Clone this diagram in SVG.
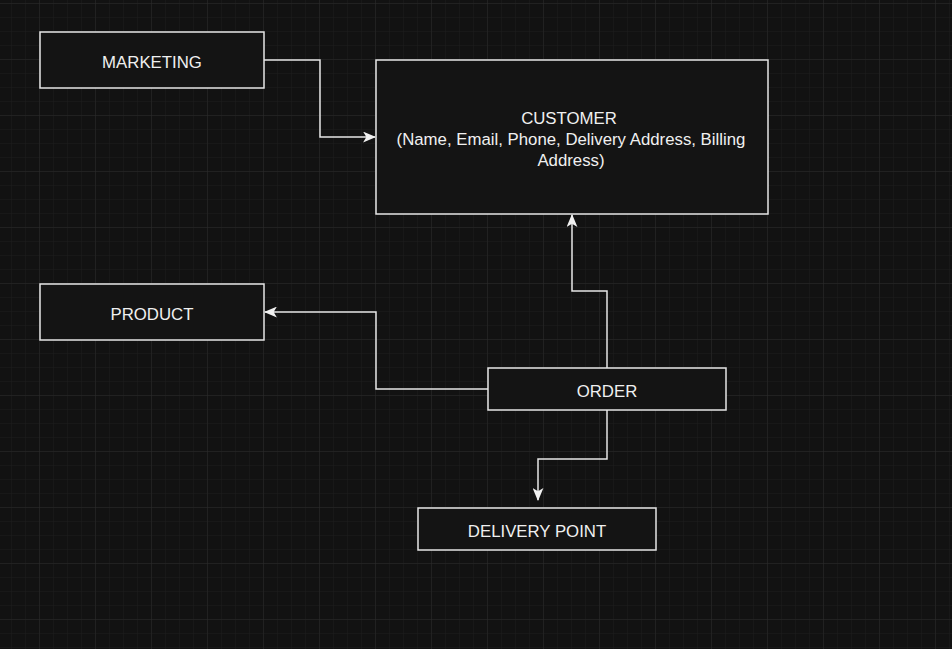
<svg xmlns="http://www.w3.org/2000/svg" width="952" height="649" viewBox="0 0 952 649">
<defs>
<pattern id="minor" x="39" y="3" width="14" height="14" patternUnits="userSpaceOnUse">
<path d="M0 0H14M0 0V14" fill="none" stroke="#1d1d1d" stroke-width="1"/>
</pattern>
<pattern id="major" x="39" y="3" width="56" height="56" patternUnits="userSpaceOnUse">
<path d="M0 0H56M0 0V56" fill="none" stroke="#2a2a2a" stroke-width="1"/>
</pattern>
<marker id="arr" viewBox="0 0 12 10" refX="11" refY="5" markerWidth="13" markerHeight="11" markerUnits="userSpaceOnUse" orient="auto">
<path d="M0 0L12 5L0 10L3 5Z" fill="#f0f0f0"/>
</marker>
</defs>
<style>
.box{fill:#141414;stroke:#e6e6e6;stroke-width:1.5}
.lbl{font-family:"Liberation Sans",Arial,sans-serif;font-size:16.8px;fill:#f0f0f0;text-anchor:middle}
.edge{fill:none;stroke:#e6e6e6;stroke-width:1.5}
</style>
<rect width="952" height="649" fill="#121212"/>
<rect width="952" height="649" fill="url(#minor)"/>
<rect width="952" height="649" fill="url(#major)"/>
<g id="connectors">
<path class="edge" d="M264 60H320V137H375" marker-end="url(#arr)"/>
<path class="edge" d="M607 368V291H572V215" marker-end="url(#arr)"/>
<path class="edge" d="M488 389H376V312H265" marker-end="url(#arr)"/>
<path class="edge" d="M607 410V459H538V500" marker-end="url(#arr)"/>
</g>
<g id="marketing">
<rect class="box" x="40" y="32" width="224" height="56"/>
<text class="lbl" x="152" y="68">MARKETING</text>
</g>
<g id="customer">
<rect class="box" x="376" y="60" width="392" height="154"/>
<text class="lbl" x="569" y="124">CUSTOMER</text>
<text class="lbl" x="571" y="145">(Name, Email, Phone, Delivery Address, Billing</text>
<text class="lbl" x="571" y="165.5">Address)</text>
</g>
<g id="product">
<rect class="box" x="40" y="284" width="224" height="56"/>
<text class="lbl" x="152" y="320">PRODUCT</text>
</g>
<g id="order">
<rect class="box" x="488" y="368" width="238" height="42"/>
<text class="lbl" x="607" y="397">ORDER</text>
</g>
<g id="delivery">
<rect class="box" x="418" y="508" width="238" height="42"/>
<text class="lbl" x="537" y="537">DELIVERY POINT</text>
</g>
</svg>
